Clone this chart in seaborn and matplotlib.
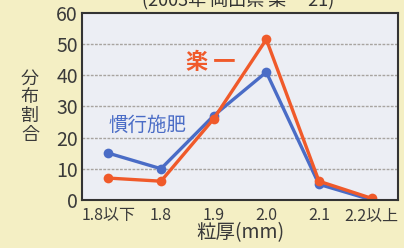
import numpy as np
import pandas as pd
import matplotlib.pyplot as plt
import seaborn as sns

# データ
categories = ["1.8以下", "1.8", "1.9", "2.0", "2.1", "2.2以上"]
kanko = [15, 10, 27, 41, 5, 0]      # 慣行施肥
rakuichi = [7, 6, 26, 51.5, 6, 0.5]  # 楽一
y_ticks = [0, 10, 20, 30, 40, 50, 60]

ORANGE = "#f05a2a"
BLUE = "#4a6cc6"

df = pd.DataFrame({
    "pos": list(range(len(categories))) * 2,
    "value": kanko + rakuichi,
    "series": ["慣行施肥"] * len(kanko) + ["楽一"] * len(rakuichi),
})

sns.set_style("white")
plt.rcParams["font.family"] = ["Noto Sans CJK JP", "DejaVu Sans"]

fig = plt.figure(figsize=(4.04, 2.48), dpi=100)
fig.patch.set_facecolor("#f4efc4")
ax = fig.add_axes([0.203, 0.194, 0.782, 0.754])
ax.set_facecolor("#eceef4")

sns.lineplot(
    data=df, x="pos", y="value", hue="series",
    palette={"慣行施肥": BLUE, "楽一": ORANGE},
    hue_order=["慣行施肥", "楽一"],
    marker="o", markersize=7, markeredgewidth=0,
    linewidth=2.4, sort=False, legend=False, ax=ax,
)

ax.set_xlim(-0.5, len(categories) - 0.5)
ax.set_ylim(0, 60)
ax.set_yticks(y_ticks)
ax.set_yticklabels([str(t) for t in y_ticks], fontsize=14, color="#3a3a3a")
ax.set_xticks(range(len(categories)))
ax.set_xticklabels(categories, fontsize=11.5, color="#3a3a3a")
ax.set_xticks(np.arange(0.5, len(categories) - 1, 1.0), minor=True)
ax.tick_params(axis="x", which="major", length=0, pad=5)
ax.tick_params(axis="x", which="minor", direction="in", length=5, width=1.2, color="#333333")
ax.tick_params(axis="y", direction="in", length=5, width=1.5, color="#333333", pad=3)

for y in y_ticks[1:-1]:
    ax.axhline(y, color="#a8a4a0", linewidth=1.0, linestyle=(0, (2, 1)), zorder=0)

for s in ax.spines.values():
    s.set_color("#333333")
    s.set_linewidth(1.5)

ax.set_xlabel("粒厚(mm)", fontsize=14, color="#3a3a3a", labelpad=-1)
ax.set_ylabel("")
fig.text(0.074, 0.57, "分\n布\n割\n合", fontsize=13, color="#3a3a3a",
         ha="center", va="center", linespacing=1.05)

ax.text(1.48, 44, "楽 一", fontsize=16, fontweight="bold", color=ORANGE,
        ha="left", va="center")
ax.text(0.0, 24, "慣行施肥", fontsize=14, color=BLUE, ha="left", va="center")

fig.text(0.59, 1.0, "(2003年 岡山県 楽一 21)", fontsize=13, color="#333333",
         ha="center", va="center")

fig.savefig("out.png", dpi=100, facecolor=fig.get_facecolor())
